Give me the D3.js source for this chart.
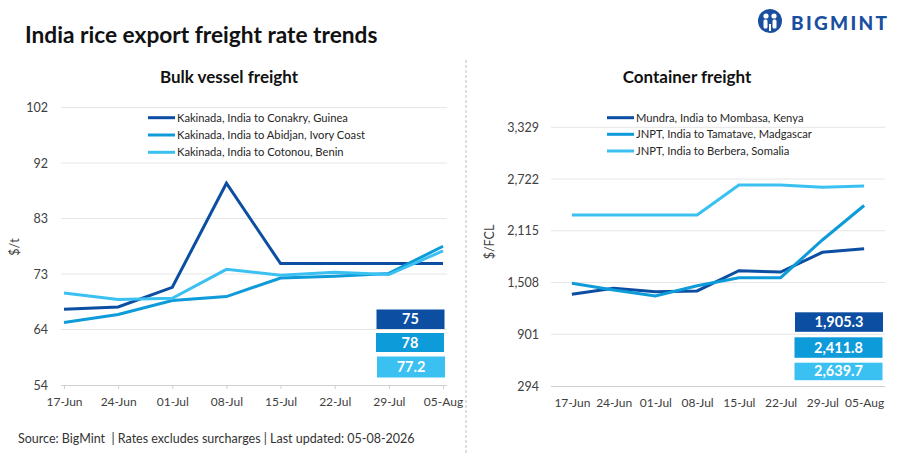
<!DOCTYPE html>
<html>
<head>
<meta charset="utf-8">
<script src="https://cdn.jsdelivr.net/npm/d3@7"></script>
<style>
  body { margin: 0; background: #fff; }
  text { font-family: Lato, "Open Sans", sans-serif; }
</style>
</head>
<body>
<div id="chart"></div>
<script>
const dates = ["17-Jun", "24-Jun", "01-Jul", "08-Jul", "15-Jul", "22-Jul", "29-Jul", "05-Aug"];

// bulk vessel freight, $/t
const conakry = [67.1, 67.5, 70.9, 88.9, 75, 75, 75, 75];
const abidjan = [64.8, 66.2, 68.6, 69.3, 72.5, 72.8, 73.3, 78];
const cotonou = [69.9, 68.8, 69.0, 74.0, 73.0, 73.5, 73.1, 77.2];
const bulkTicks = [54, 63.6, 73.2, 82.8, 92.4, 102];
const bulkNames = ["Kakinada, India to Conakry, Guinea", "Kakinada, India to Abidjan, Ivory Coast", "Kakinada, India to Cotonou, Benin"];

// container freight, $/FCL
const mombasa = [1370, 1440, 1400, 1409, 1647, 1631, 1862, 1905.3];
const tamatave = [1499, 1420, 1350, 1471, 1565, 1565, 2007, 2411.8];
const berbera = [2300, 2300, 2300, 2300, 2652, 2652, 2625, 2639.7];
const containerTicks = [294, 901, 1508, 2115, 2722, 3329];
const containerNames = ["Mundra, India to Mombasa, Kenya", "JNPT, India to Tamatave, Madgascar", "JNPT, India to Berbera, Somalia"];

const colors = ["#0b4ea2", "#0e9bd9", "#3bc0f2"];

const width = 904;
const height = 453;

const svg = d3.select("#chart")
  .append("svg")
  .attr("width", width)
  .attr("height", height);

svg.append("rect").attr("width", width).attr("height", height).attr("fill", "#fff");

// header
svg.append("text")
  .attr("x", 25).attr("y", 43)
  .attr("font-size", 22.7).attr("font-weight", 700).attr("fill", "#111")
  .text("India rice export freight rate trends");

// logo
const logo = svg.append("g").attr("transform", "translate(770, 21)");
logo.append("circle").attr("r", 12).attr("fill", "#1a4f9f");
logo.append("circle").attr("cx", -4).attr("cy", -5).attr("r", 2.6).attr("fill", "#fff");
logo.append("circle").attr("cx", 4).attr("cy", -5).attr("r", 2.6).attr("fill", "#fff");
logo.append("rect").attr("x", -6.5).attr("y", -1.5).attr("width", 4).attr("height", 9).attr("rx", 1.5).attr("fill", "#fff");
logo.append("rect").attr("x", 2.5).attr("y", -1.5).attr("width", 4).attr("height", 9).attr("rx", 1.5).attr("fill", "#fff");
logo.append("rect").attr("x", -1).attr("y", 3).attr("width", 2).attr("height", 7).attr("fill", "#fff");
svg.append("text")
  .attr("x", 791).attr("y", 30)
  .attr("font-size", 19).attr("font-weight", 900).attr("fill", "#1a4f9f")
  .attr("letter-spacing", 2.3)
  .text("BIGMINT");

// divider
svg.append("line")
  .attr("x1", 466).attr("x2", 466).attr("y1", 60).attr("y2", height)
  .attr("stroke", "#bdbdbd").attr("stroke-width", 1).attr("stroke-dasharray", "3,2");

// footer
svg.append("text")
  .attr("x", 18).attr("y", 443)
  .attr("font-size", 12.5).attr("fill", "#333")
  .style("white-space", "pre")
  .text("Source: BigMint  | Rates excludes surcharges | Last updated: 05-08-2026");

function drawPanel(opts) {
  const g = svg.append("g");
  const x = d3.scalePoint().domain(dates).range(opts.xRange).padding(opts.padding);
  const y = d3.scaleLinear().domain(d3.extent(opts.ticks)).range(opts.yRange);

  g.append("text")
    .attr("x", opts.titleX).attr("y", 83)
    .attr("text-anchor", "middle")
    .attr("font-size", 17).attr("font-weight", 700).attr("fill", "#111")
    .text(opts.title);

  // gridlines
  g.selectAll(".grid")
    .data(opts.ticks.slice(1))
    .enter()
    .append("line")
    .attr("x1", opts.gridRange[0]).attr("x2", opts.gridRange[1])
    .attr("y1", (d) => y(d)).attr("y2", (d) => y(d))
    .attr("stroke", "#e6e6e6").attr("stroke-width", 1);

  // x axis
  const xAxis = d3.axisBottom(x).tickSize(opts.tickSize).tickPadding(opts.tickPad);
  const xg = g.append("g")
    .attr("transform", `translate(0, ${y(opts.ticks[0])})`)
    .call(xAxis);
  xg.select(".domain")
    .attr("d", `M${opts.gridRange[0]},0.5H${opts.gridRange[1]}`)
    .attr("stroke", "#d0d0d0");
  xg.selectAll(".tick line").attr("stroke", "#d0d0d0");
  xg.selectAll(".tick text")
    .attr("font-size", 12).attr("fill", "#404040")
    .style("font-family", "Lato, 'Open Sans', sans-serif");

  // y axis labels
  const yAxis = d3.axisLeft(y).tickValues(opts.ticks).tickFormat(opts.tickFormat).tickSize(0).tickPadding(0);
  const yg = g.append("g")
    .attr("transform", `translate(${opts.yLabelX}, 0)`)
    .call(yAxis);
  yg.select(".domain").remove();
  yg.selectAll(".tick text")
    .attr("font-size", 12.5).attr("fill", "#404040")
    .style("font-family", "Lato, 'Open Sans', sans-serif");

  g.append("text")
    .attr("transform", `translate(${opts.yTitleX}, ${opts.yTitleY}) rotate(-90)`)
    .attr("text-anchor", "middle")
    .attr("font-size", 12.5).attr("fill", "#404040")
    .text(opts.yTitle);

  const line = d3.line()
    .x((d, i) => x(dates[i]))
    .y((d) => y(d));

  opts.series.forEach((s, i) => {
    g.append("path")
      .datum(s)
      .attr("fill", "none")
      .attr("stroke", colors[i])
      .attr("stroke-width", 3)
      .attr("stroke-linejoin", "miter")
      .attr("d", line);
  });

  // legend
  opts.names.forEach((name, i) => {
    const ly = opts.legendY[i];
    g.append("line")
      .attr("x1", opts.legendX).attr("x2", opts.legendX + 27)
      .attr("y1", ly).attr("y2", ly)
      .attr("stroke", colors[i]).attr("stroke-width", 3);
    g.append("text")
      .attr("x", opts.legendX + 29).attr("y", ly + 4)
      .attr("font-size", 11.2).attr("fill", "#262626")
      .text(name);
  });

  // last value boxes
  opts.series.forEach((s, i) => {
    const b = opts.boxes[i];
    g.append("rect")
      .attr("x", b[0]).attr("y", b[1])
      .attr("width", opts.boxW).attr("height", b[2])
      .attr("fill", colors[i]);
    g.append("text")
      .attr("x", b[0] + opts.boxW / 2).attr("y", b[1] + b[2] / 2 + 5)
      .attr("text-anchor", "middle")
      .attr("font-size", 14.5).attr("font-weight", 700).attr("fill", "#fff")
      .text(opts.valueFormat(s[s.length - 1]));
  });
}

drawPanel({
  title: "Bulk vessel freight",
  titleX: 229,
  xRange: [64, 443],
  padding: 0,
  gridRange: [61, 447],
  tickSize: 4,
  tickPad: 8,
  yRange: [385, 107.5],
  ticks: bulkTicks,
  tickFormat: d3.format(".0f"),
  yLabelX: 48,
  yTitle: "$/t",
  yTitleX: 19,
  yTitleY: 247,
  series: [conakry, abidjan, cotonou],
  names: bulkNames,
  legendX: 148,
  legendY: [117.7, 135, 152.3],
  boxW: 68,
  boxes: [[376.5, 309.5, 19.5], [376, 333, 19], [377, 356.5, 21]],
  valueFormat: d3.format("~g")
});

drawPanel({
  title: "Container freight",
  titleX: 687,
  xRange: [551, 885],
  padding: 0.5,
  gridRange: [551, 885],
  tickSize: 0,
  tickPad: 12,
  yRange: [386, 127.3],
  ticks: containerTicks,
  tickFormat: d3.format(","),
  yLabelX: 539,
  yTitle: "$/FCL",
  yTitleX: 494,
  yTitleY: 242,
  series: [mombasa, tamatave, berbera],
  names: containerNames,
  legendX: 607,
  legendY: [117.7, 134.3, 151],
  boxW: 88,
  boxes: [[795, 312.3, 19.5], [794.5, 337.3, 20.5], [794.5, 362.7, 17.5]],
  valueFormat: d3.format(",.1f")
});
</script>
</body>
</html>
